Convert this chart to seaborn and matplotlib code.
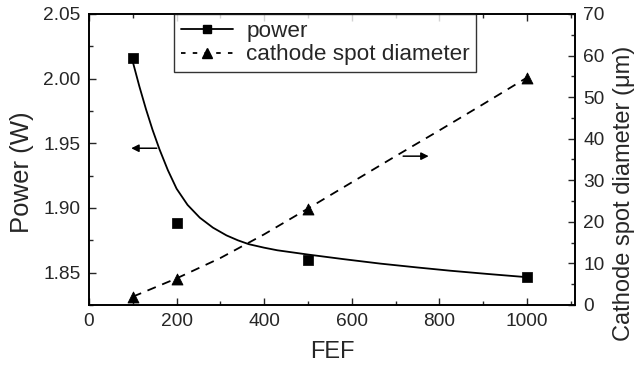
import pandas as pd
import matplotlib
matplotlib.use("Agg")
import matplotlib.pyplot as plt
from matplotlib.lines import Line2D
from matplotlib.ticker import MultipleLocator, FormatStrFormatter
import seaborn as sns

# measured points
fef = [100, 200, 500, 1000]
power = [2.0158, 1.8887, 1.8594, 1.8465]
diameter = [2.0, 6.2, 23.2, 54.7]

# fitted curves
power_fit_x = [100, 115, 130, 145, 161, 180, 200, 225, 253, 283, 314, 340, 365, 400, 430,
               500, 580, 665, 750, 825, 910, 1000]
power_fit_y = [2.013, 1.994, 1.9765, 1.9605, 1.9453, 1.9293, 1.9149, 1.9024, 1.8925, 1.8848,
               1.8788, 1.875, 1.872, 1.8693, 1.8673, 1.864, 1.8605, 1.857, 1.854, 1.8515,
               1.849, 1.8465]
diam_fit_x = [100, 200, 300, 400, 500, 600, 700, 800, 900, 1000]
diam_fit_y = [2.0, 6.4, 11.3, 17.0, 23.2, 29.5, 35.8, 42.0, 48.3, 54.7]

df_pf = pd.DataFrame({"FEF": power_fit_x, "Power": power_fit_y})
df_df = pd.DataFrame({"FEF": diam_fit_x, "Diameter": diam_fit_y})
df_p = pd.DataFrame({"FEF": fef, "Power": power})
df_d = pd.DataFrame({"FEF": fef, "Diameter": diameter})

sns.set_style("ticks")
plt.rcParams["font.family"] = ["Liberation Sans", "DejaVu Sans"]

fig = plt.figure(figsize=(6.39, 3.70), dpi=100)
ax = fig.add_axes([0.1393, 0.1757, 0.7607, 0.7865])
ax2 = ax.twinx()

sns.lineplot(data=df_pf, x="FEF", y="Power", ax=ax, color="black", lw=1.3, sort=False)
sns.scatterplot(data=df_p, x="FEF", y="Power", ax=ax, color="black", marker="s", s=42,
                edgecolor="black", zorder=5)
sns.lineplot(data=df_df, x="FEF", y="Diameter", ax=ax2, color="black", lw=1.3,
             linestyle=(0, (5, 3.8)), sort=False)
sns.scatterplot(data=df_d, x="FEF", y="Diameter", ax=ax2, color="black", marker="^", s=62,
                edgecolor="black", zorder=5)

ax.set_xlim(0, 1110)
ax.set_ylim(1.825, 2.05)
ax2.set_ylim(0, 70)

ax.xaxis.set_major_locator(MultipleLocator(200))
ax.xaxis.set_minor_locator(MultipleLocator(100))
ax.yaxis.set_major_locator(MultipleLocator(0.05))
ax.yaxis.set_minor_locator(MultipleLocator(0.025))
ax2.yaxis.set_major_locator(MultipleLocator(10))
ax2.yaxis.set_minor_locator(MultipleLocator(5))
ax.yaxis.set_major_formatter(FormatStrFormatter("%.2f"))

ax.tick_params(axis="x", which="both", top=True, bottom=True, direction="in")
ax.tick_params(axis="y", which="both", left=True, right=False, direction="in")
ax.tick_params(which="major", length=5, width=1, labelsize=13.8, pad=6)
ax.tick_params(which="minor", length=3, width=1)
ax2.tick_params(axis="y", which="both", direction="in")
ax2.tick_params(which="major", length=5, width=1, labelsize=13.8, pad=6)
ax2.tick_params(which="minor", length=3, width=1)

for a in (ax, ax2):
    for sp in a.spines.values():
        sp.set_visible(True)
        sp.set_linewidth(1.2)
        sp.set_color("black")

ax.set_xlabel("FEF", fontsize=17, labelpad=8)
ax.set_ylabel("Power (W)", fontsize=18.5)
ax.yaxis.set_label_coords(-0.113, 0.455)
ax2.set_ylabel("Cathode spot diameter (\u03bcm)", fontsize=17)
ax2.yaxis.set_label_coords(1.077, 0.385)

ax.annotate("", xy=(90, 1.9462), xytext=(161, 1.9462),
            arrowprops=dict(arrowstyle="-|>", color="black", lw=1.1, mutation_scale=11))
ax2.annotate("", xy=(782, 35.8), xytext=(711, 35.8),
             arrowprops=dict(arrowstyle="-|>", color="black", lw=1.1, mutation_scale=11))

handles = [
    Line2D([], [], color="black", lw=1.3, marker="s", markersize=6),
    Line2D([], [], color="black", lw=1.3, linestyle=(0, (2.5, 4)), marker="^", markersize=7.5),
]
leg = ax2.legend(handles, ["power", "cathode spot diameter"], loc="upper left",
                 bbox_to_anchor=(0.175, 1.0), fontsize=16.2, frameon=True, fancybox=False,
                 handlelength=2.3, borderpad=0.3, labelspacing=0.12, handletextpad=0.6,
                 borderaxespad=0)
leg.get_frame().set_edgecolor("black")
leg.get_frame().set_linewidth(1.0)

fig.savefig("out.png", dpi=100)
